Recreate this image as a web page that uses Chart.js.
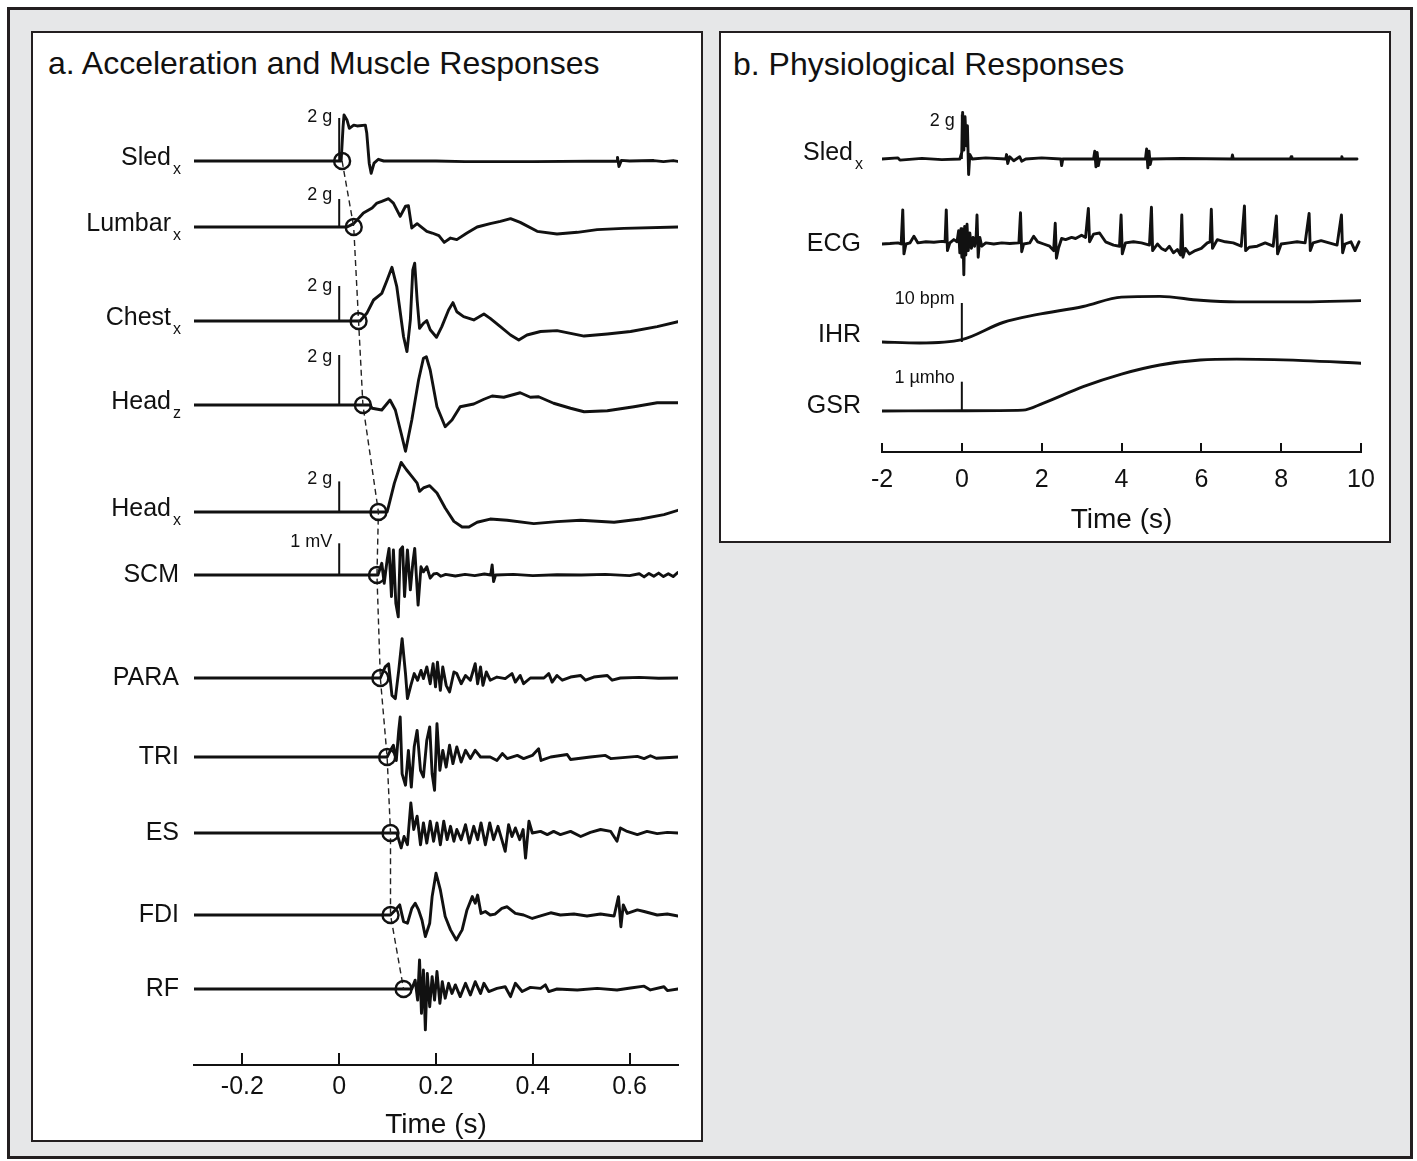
<!DOCTYPE html>
<html><head><meta charset="utf-8">
<script src="https://cdn.jsdelivr.net/npm/chart.js@4.4.1/dist/chart.umd.min.js"></script>
<style>
html,body{margin:0;padding:0;background:#fff;}
body{width:1417px;height:1161px;position:relative;overflow:hidden;font-family:'Liberation Sans',Arial,Helvetica,sans-serif;color:#111;}
#frame{position:absolute;left:7px;top:7px;width:1406px;height:1152px;box-sizing:border-box;border:3px solid #231f20;background:#e6e7e8;}
.panel{position:absolute;box-sizing:border-box;border:2px solid #231f20;background:#fff;}
#pa{left:31px;top:31px;width:672px;height:1111px;}
#pb{left:719px;top:31px;width:672px;height:512px;}
.title{position:absolute;font-size:32px;line-height:32px;white-space:nowrap;color:#111;}
canvas{position:absolute;}
</style></head>
<body>
<div id="frame"></div>
<div class="panel" id="pa"></div>
<div class="panel" id="pb"></div>
<div class="title" style="left:48px;top:47px;">a. Acceleration and Muscle Responses</div>
<div class="title" style="left:733px;top:48px;">b. Physiological Responses</div>
<canvas id="ca" width="668" height="1107" style="left:33px;top:33px;"></canvas>
<canvas id="cb" width="668" height="508" style="left:721px;top:33px;"></canvas>
<script>
const FONT = "'Liberation Sans', Arial, Helvetica, sans-serif";

// ---------- Panel a data (time in s; accel in g, EMG in mV) ----------
const aNames = ['Sled','Lumbar','Chest','Head','Head','SCM','PARA','TRI','ES','FDI','RF'];
const aSubs  = ['x','x','x','z','x','','','','','',''];
const aTicks = [-0.2, 0, 0.2, 0.4, 0.6];
const aOnsets = [0.006, 0.030, 0.040, 0.049, 0.081, 0.078, 0.085, 0.099, 0.106, 0.106, 0.133];
const aScaleBars = [2, 2, 2, 2, 2, 1, null, null, null, null, null];
const aScaleLabels = ['2 g','2 g','2 g','2 g','2 g','1 mV','','','','',''];

const sledA = [[-0.3,0],[0.004,0],[0.008,1.6],[0.010,2.14],[0.016,1.91],[0.021,1.52],[0.030,1.67],[0.037,1.63],[0.054,1.67],[0.057,1.29],[0.062,-0.1],[0.066,-0.57],[0.072,-0.1],[0.081,0.08],[0.092,0],[0.2,0],[0.26,-0.03],[0.4,-0.03],[0.574,0],[0.575,0.17],[0.578,-0.26],[0.583,0.03],[0.6,0],[0.65,0.02],[0.67,-0.03],[0.69,0.02],[0.7,-0.02]];
const lumbarA = [[-0.3,0],[0.016,0],[0.030,0.24],[0.050,1.0],[0.068,1.36],[0.078,1.71],[0.088,1.83],[0.102,2.02],[0.112,1.71],[0.126,0.76],[0.137,1.48],[0.143,1.52],[0.150,-0.07],[0.161,0.24],[0.168,0.05],[0.181,-0.31],[0.192,-0.43],[0.206,-0.62],[0.217,-1.1],[0.230,-0.79],[0.243,-0.9],[0.264,-0.43],[0.285,0],[0.312,0.24],[0.333,0.4],[0.354,0.6],[0.374,0.33],[0.409,-0.31],[0.450,-0.5],[0.492,-0.38],[0.533,-0.19],[0.588,-0.1],[0.700,0]];
const chestA = [[-0.3,0],[0.043,0],[0.057,0.44],[0.071,1.2],[0.088,1.58],[0.099,2.34],[0.109,3.07],[0.119,1.96],[0.133,-0.9],[0.140,-1.75],[0.147,0.06],[0.152,2.9],[0.156,3.3],[0.161,1.2],[0.166,-0.42],[0.174,-0.13],[0.181,0.02],[0.188,-0.5],[0.201,-0.93],[0.212,-0.32],[0.226,0.63],[0.235,1.05],[0.243,0.53],[0.257,0.25],[0.278,0.06],[0.299,0.4],[0.312,0.15],[0.333,-0.32],[0.354,-0.8],[0.371,-1.09],[0.388,-0.8],[0.416,-0.6],[0.450,-0.55],[0.506,-0.86],[0.554,-0.74],[0.602,-0.6],[0.657,-0.32],[0.700,-0.04]];
const headZA = [[-0.3,0],[0.064,0],[0.068,-0.13],[0.088,-0.2],[0.105,0.2],[0.116,-0.2],[0.128,-1.13],[0.137,-1.85],[0.150,-0.6],[0.164,1.0],[0.174,1.87],[0.180,1.93],[0.188,1.4],[0.202,-0.07],[0.219,-0.87],[0.233,-0.6],[0.250,-0.07],[0.278,0.04],[0.299,0.23],[0.316,0.36],[0.340,0.31],[0.374,0.49],[0.395,0.31],[0.412,0.33],[0.443,0.07],[0.478,-0.13],[0.506,-0.27],[0.554,-0.23],[0.609,-0.07],[0.657,0.09],[0.700,0.09]];
const headXA = [[-0.3,0],[0.099,0],[0.102,0.37],[0.114,1.89],[0.128,3.24],[0.139,2.76],[0.150,2.33],[0.161,1.89],[0.166,1.35],[0.174,1.57],[0.187,1.72],[0.202,1.24],[0.219,0.26],[0.237,-0.61],[0.254,-0.98],[0.268,-0.98],[0.285,-0.67],[0.312,-0.46],[0.347,-0.54],[0.402,-0.76],[0.450,-0.63],[0.499,-0.54],[0.568,-0.67],[0.623,-0.46],[0.671,-0.17],[0.700,0.11]];
const scmA = [[-0.3,0],[0.08,0],[0.088,0.37],[0.093,-0.26],[0.099,0.47],[0.103,0.84],[0.108,-0.68],[0.112,0.79],[0.117,-0.89],[0.122,-1.32],[0.126,0.79],[0.131,0.89],[0.135,-0.68],[0.141,0.79],[0.147,-0.47],[0.152,0.37],[0.156,0.84],[0.163,-0.95],[0.169,0.26],[0.174,0.1],[0.181,0.26],[0.188,-0.1],[0.195,0.03],[0.202,0.05],[0.21,-0.04],[0.22,0.02],[0.24,-0.03],[0.26,0.02],[0.28,-0.02],[0.30,0.03],[0.313,0],[0.316,0.32],[0.319,-0.21],[0.323,0],[0.36,0.02],[0.40,-0.02],[0.45,0.01],[0.50,0],[0.55,0.02],[0.60,-0.02],[0.62,0.04],[0.63,-0.06],[0.64,0.05],[0.65,-0.04],[0.66,0.06],[0.67,-0.05],[0.68,0.04],[0.69,-0.05],[0.70,0.08]];
const paraA = [[-0.3,0],[0.085,0],[0.095,0.35],[0.102,0.45],[0.109,-0.55],[0.116,-0.65],[0.123,0.24],[0.130,1.24],[0.137,0.14],[0.141,-0.65],[0.148,-0.23],[0.155,0.14],[0.162,-0.07],[0.169,0.24],[0.174,-0.02],[0.181,0.35],[0.188,-0.18],[0.194,0.45],[0.199,-0.28],[0.203,0.5],[0.209,-0.39],[0.214,0.35],[0.221,-0.23],[0.228,-0.44],[0.237,0.19],[0.243,0.14],[0.252,-0.18],[0.261,0.08],[0.271,-0.07],[0.281,0.45],[0.286,-0.18],[0.292,0.35],[0.297,-0.23],[0.304,0.19],[0.312,-0.07],[0.326,0.03],[0.343,-0.02],[0.357,0.14],[0.364,-0.13],[0.374,0.08],[0.381,-0.18],[0.395,0],[0.423,0],[0.433,0.14],[0.440,-0.13],[0.450,0.08],[0.461,-0.07],[0.478,0.03],[0.499,0.08],[0.509,-0.07],[0.526,0.03],[0.554,0.08],[0.564,-0.07],[0.581,0],[0.62,0.02],[0.66,-0.01],[0.70,0]];
const triA = [[-0.3,0],[0.099,0],[0.106,0.21],[0.112,0.37],[0.118,-0.11],[0.123,0.84],[0.126,1.26],[0.130,-0.53],[0.137,-0.89],[0.143,0.21],[0.149,-0.95],[0.155,0.32],[0.161,0.84],[0.168,-0.42],[0.174,-0.63],[0.181,0.53],[0.187,0.95],[0.192,-0.53],[0.197,-1.05],[0.202,1.05],[0.208,-0.42],[0.214,0.21],[0.221,-0.32],[0.228,0.37],[0.235,-0.21],[0.243,0.32],[0.252,-0.16],[0.261,0.21],[0.271,-0.05],[0.281,0.21],[0.292,0],[0.312,0],[0.326,-0.11],[0.337,0.11],[0.347,-0.05],[0.368,0.05],[0.381,-0.05],[0.399,0.05],[0.412,0.26],[0.417,-0.11],[0.437,0],[0.471,0.08],[0.478,-0.08],[0.519,0],[0.550,0.05],[0.561,-0.05],[0.616,0.02],[0.63,-0.05],[0.643,0.04],[0.655,-0.04],[0.70,0]];
const esA = [[-0.3,0],[0.119,0],[0.128,-0.47],[0.134,-0.11],[0.141,-0.37],[0.148,0.95],[0.154,0.11],[0.161,0.53],[0.168,-0.37],[0.174,0.32],[0.181,-0.32],[0.188,0.37],[0.195,-0.26],[0.202,0.32],[0.209,-0.37],[0.216,0.37],[0.223,-0.21],[0.230,0.21],[0.237,-0.26],[0.243,0.11],[0.252,-0.21],[0.261,0.26],[0.269,-0.32],[0.278,0.21],[0.286,-0.21],[0.293,0.32],[0.302,-0.37],[0.311,0.32],[0.319,-0.21],[0.328,0.21],[0.336,-0.21],[0.343,-0.58],[0.350,0.26],[0.357,-0.11],[0.364,0.16],[0.373,-0.21],[0.380,0.11],[0.385,-0.79],[0.392,0.37],[0.399,0],[0.416,0.05],[0.430,-0.05],[0.443,0.05],[0.457,-0.05],[0.478,0.05],[0.499,-0.11],[0.519,0.02],[0.540,0.11],[0.561,0.05],[0.574,-0.26],[0.581,0.16],[0.595,0.05],[0.616,-0.05],[0.636,0.05],[0.657,-0.02],[0.678,0.02],[0.70,0]];
const fdiA = [[-0.3,0],[0.106,0],[0.116,0.16],[0.125,0.32],[0.133,-0.21],[0.141,-0.26],[0.150,0.21],[0.157,0.37],[0.164,0.16],[0.171,-0.16],[0.178,-0.68],[0.187,-0.26],[0.192,0.58],[0.200,1.32],[0.209,0.79],[0.219,-0.05],[0.230,-0.47],[0.242,-0.79],[0.254,-0.47],[0.264,0.16],[0.275,0.58],[0.281,0.37],[0.286,0.63],[0.293,0.05],[0.302,0.11],[0.312,0],[0.322,0.03],[0.336,0.21],[0.347,0.26],[0.364,0.05],[0.381,0],[0.399,-0.11],[0.416,-0.03],[0.437,0.07],[0.457,0],[0.485,0.03],[0.512,-0.03],[0.540,0.03],[0.568,-0.03],[0.577,0.58],[0.582,-0.37],[0.587,0.32],[0.595,0.05],[0.616,0.16],[0.630,0.11],[0.657,0],[0.678,0.03],[0.70,-0.03]];
const rfA = [[-0.3,0],[0.150,0],[0.157,0.28],[0.162,-0.35],[0.166,0.92],[0.170,-0.77],[0.174,0.6],[0.178,-1.29],[0.182,0.49],[0.187,-0.56],[0.192,0.39],[0.197,-0.35],[0.202,0.55],[0.208,-0.45],[0.213,0.23],[0.219,-0.29],[0.226,0.18],[0.233,-0.14],[0.240,0.13],[0.250,-0.24],[0.261,0.18],[0.271,-0.19],[0.281,0.23],[0.292,-0.14],[0.299,0.18],[0.309,-0.08],[0.326,0.02],[0.343,0.07],[0.354,-0.24],[0.364,0.18],[0.378,-0.08],[0.395,0.05],[0.416,0.02],[0.426,0.13],[0.433,-0.08],[0.450,0],[0.492,-0.03],[0.533,0.02],[0.574,-0.03],[0.602,0.03],[0.630,0.09],[0.643,-0.03],[0.671,0.07],[0.678,-0.05],[0.70,0]];
const aSeries = [sledA, lumbarA, chestA, headZA, headXA, scmA, paraA, triA, esA, fdiA, rfA];

// ---------- Panel b data (time in s) ----------
const bNames = ['Sled','ECG','IHR','GSR'];
const bSubs  = ['x','','',''];
const bTicks = [-2, 0, 2, 4, 6, 8, 10];
const bScaleBars = [2, null, 10, 1];
const bScaleLabels = ['2 g','','10 bpm','1 \u00b5mho'];
const sledB = [[-2,0],[-1.6,0.05],[-1.55,-0.05],[-1.0,0.03],[-0.5,-0.03],[-0.05,0],[0,0.3],[0.02,2.1],[0.05,0.4],[0.08,1.9],[0.11,0.6],[0.14,1.5],[0.17,-0.7],[0.2,0.2],[0.26,0],[0.6,0.05],[1.1,0],[1.12,0.2],[1.15,-0.2],[1.2,0.1],[1.3,-0.08],[1.45,0.1],[1.5,-0.1],[1.6,0],[2.0,0.05],[2.48,0],[2.5,-0.3],[2.53,0],[3.3,0],[3.33,0.35],[3.36,-0.35],[3.39,0.3],[3.42,-0.3],[3.45,0],[4.6,0],[4.63,0.45],[4.66,-0.4],[4.69,0.35],[4.72,-0.25],[4.75,0],[5.5,0.02],[6.76,0],[6.78,0.18],[6.8,0],[8.23,0],[8.25,0.1],[8.27,0],[9.5,0],[9.52,0.1],[9.54,0],[9.9,0]];
const ecgB = [[-2,0],[-1.8,0.02],[-1.6,0.05],[-1.52,0],[-1.48,1.55],[-1.45,-0.45],[-1.4,0],[-1.3,0.05],[-1.2,0.35],[-1.1,0.05],[-0.9,0.1],[-0.7,0.08],[-0.5,0.12],[-0.42,0.1],[-0.39,1.55],[-0.36,-0.3],[-0.3,0.05],[-0.2,0.2],[-0.12,0.1],[-0.08,0.6],[-0.05,-0.4],[-0.02,0.7],[0.0,-0.6],[0.03,0.3],[0.05,-1.4],[0.07,0.8],[0.1,-0.5],[0.13,0.9],[0.16,-0.3],[0.2,0.5],[0.24,-0.2],[0.28,0.3],[0.32,-0.1],[0.36,0.4],[0.38,1.32],[0.41,-0.6],[0.45,0.3],[0.5,-0.1],[0.6,0.05],[0.8,0],[1.0,0.05],[1.2,0.02],[1.43,0.05],[1.47,1.42],[1.5,-0.35],[1.55,0],[1.7,0.05],[1.8,0.35],[1.9,0.1],[2.05,0],[2.2,-0.1],[2.3,-0.3],[2.34,0.94],[2.37,-0.65],[2.42,-0.2],[2.5,0.25],[2.6,0.2],[2.75,0.3],[2.85,0.25],[3.0,0.4],[3.1,0.3],[3.17,1.62],[3.2,0.1],[3.3,0.45],[3.45,0.5],[3.6,0.1],[3.8,-0.05],[3.95,-0.1],[3.99,1.32],[4.02,-0.45],[4.1,0.05],[4.3,0.1],[4.5,0.05],[4.7,-0.05],[4.75,1.67],[4.78,-0.3],[4.9,0],[5.0,-0.2],[5.1,-0.3],[5.2,-0.1],[5.3,-0.4],[5.4,-0.25],[5.48,-0.5],[5.51,1.32],[5.54,-0.6],[5.6,-0.2],[5.7,-0.45],[5.85,-0.3],[6.0,-0.2],[6.15,0.05],[6.22,0.1],[6.25,1.58],[6.28,-0.2],[6.4,0.2],[6.6,0.1],[6.8,0.05],[7.0,-0.1],[7.08,1.73],[7.11,-0.3],[7.2,-0.15],[7.4,-0.1],[7.6,0.05],[7.8,-0.1],[7.88,1.27],[7.91,-0.45],[8.0,0],[8.2,0.05],[8.4,0.1],[8.6,0.05],[8.7,1.39],[8.73,-0.3],[8.8,0.05],[9.0,0.15],[9.2,0.05],[9.4,-0.05],[9.51,1.32],[9.54,-0.4],[9.6,0],[9.75,0.1],[9.85,-0.3],[9.95,0.1]];
const ihrB = [[-2,0],[-1.06,-0.26],[0,0.6],[1.03,5.0],[1.87,7.0],[3.04,9.1],[4.0,11.5],[4.96,11.7],[5.97,10.7],[6.89,10.3],[8.56,10.3],[10,10.6]];
const gsrB = [[-2,0],[0,0.01],[1.53,0.03],[2.03,0.26],[3.04,0.83],[4.0,1.26],[4.96,1.57],[5.97,1.74],[6.89,1.77],[8.56,1.72],[10,1.63]];
const bSeries = [sledB, ecgB, ihrB, gsrB];

// ---------- Layout (positions / sizes / styles, not data) ----------
const layoutA = {
  yMax: 975,
  baselines: [904, 838, 744, 660, 553, 490, 387, 308, 232, 150, 76],
  gains: [21.5, 14, 17.5, 25, 15.3, 31.7, 31.7, 31.7, 31.7, 31.7, 31.7],
  labelDy: [-3, -3, -3, -3, -3, 0, 0, 0, 0, 0, 0],
  barLabelDy: [-1, -4, 0, 2, -2, -1, 0, 0, 0, 0, 0],
  smooth: [false,false,false,false,false,false,false,false,false,false,false],
  padding: {left: 161, right: 23, top: 57, bottom: 0},
  axisHeight: 75, tickPad: -1, tickLen: 12, labelGap: 13, titlePadBottom: -2
};
const layoutB = {
  yMax: 352,
  baselines: [293, 208, 110, 41],
  gains: [22.2, 22, 3.9, 29.3],
  labelDy: [-6, 0, -7, -5],
  barLabelDy: [6, 0, -4, -4],
  smooth: [false, false, true, true],
  padding: {left: 161, right: 28, top: 67, bottom: 4},
  axisHeight: 85, tickPad: 5, tickLen: 9, labelGap: 19, titlePadBottom: 0
};
const INK = '#111';
const TRACE_W = 2.9;

function buildDatasets(series, L, scaleBars, onsets) {
  const ds = [];
  if (onsets) {
    const pts = onsets.map((t, i) => ({x: t, y: L.baselines[i]}));
    ds.push({data: pts, showLine: false, pointRadius: 8, pointBorderWidth: 2.4,
             pointBackgroundColor: 'rgba(0,0,0,0)', pointBorderColor: INK});
    ds.push({data: pts, showLine: true, pointRadius: 0, borderWidth: 1.4,
             borderColor: '#222', borderDash: [6, 4]});
  }
  series.forEach((s, i) => {
    ds.push({data: s.map(p => ({x: p[0], y: L.baselines[i] + p[1] * L.gains[i]})),
             showLine: true, pointRadius: 0, borderWidth: TRACE_W, borderColor: INK,
             borderJoinStyle: 'round', borderCapStyle: 'round',
             cubicInterpolationMode: L.smooth[i] ? 'monotone' : 'default', tension: 0});
    if (scaleBars[i] != null) {
      ds.push({data: [{x: 0, y: L.baselines[i]}, {x: 0, y: L.baselines[i] + scaleBars[i] * L.gains[i]}],
               showLine: true, pointRadius: 0, borderWidth: 2, borderColor: INK});
    }
  });
  return ds;
}

function labelPlugin(names, subs, scaleBars, scaleLabels, L) {
  return {
    id: 'traceLabels',
    afterDraw(chart) {
      const {ctx, chartArea, scales} = chart;
      const x = scales.x, y = scales.y;
      ctx.save();
      ctx.strokeStyle = INK; ctx.fillStyle = INK; ctx.lineWidth = 2;
      x.ticks.forEach(t => {
        const px = Math.round(x.getPixelForValue(t.value));
        ctx.beginPath(); ctx.moveTo(px, chartArea.bottom); ctx.lineTo(px, chartArea.bottom - L.tickLen); ctx.stroke();
      });
      ctx.textBaseline = 'middle';
      names.forEach((n, i) => {
        const py = y.getPixelForValue(L.baselines[i]) + L.labelDy[i];
        const right = chartArea.left - L.labelGap;
        let subW = 0;
        ctx.textAlign = 'right';
        if (subs[i]) {
          ctx.font = '16px ' + FONT;
          subW = ctx.measureText(subs[i]).width;
          ctx.fillText(subs[i], right, py + 12);
        }
        ctx.font = '25px ' + FONT;
        ctx.fillText(n, right - subW - 2, py);
      });
      ctx.font = '18px ' + FONT;
      scaleBars.forEach((b, i) => {
        if (b == null) return;
        const px = x.getPixelForValue(0) - 7;
        const py = y.getPixelForValue(L.baselines[i] + b * L.gains[i]) + L.barLabelDy[i];
        ctx.textAlign = 'right';
        ctx.fillText(scaleLabels[i], px, py);
      });
      ctx.restore();
    }
  };
}

function makeChart(id, series, L, xMin, xMax, ticks, names, subs, bars, barLabels, onsets) {
  return new Chart(document.getElementById(id), {
    type: 'scatter',
    data: {datasets: buildDatasets(series, L, bars, onsets)},
    options: {
      responsive: false, animation: false, events: [],
      layout: {padding: L.padding},
      plugins: {legend: {display: false}, tooltip: {enabled: false}},
      scales: {
        x: {type: 'linear', position: 'bottom', min: xMin, max: xMax,
            afterBuildTicks: s => { s.ticks = ticks.map(v => ({value: v})); },
            afterFit: s => { s.height = L.axisHeight; },
            grid: {display: false},
            border: {display: true, color: INK, width: 2},
            ticks: {color: INK, font: {family: FONT, size: 25}, padding: L.tickPad,
                    maxRotation: 0, autoSkip: false, callback: v => String(v)},
            title: {display: true, text: 'Time (s)', color: INK, font: {family: FONT, size: 28},
                    padding: {top: 0, bottom: L.titlePadBottom}}},
        y: {type: 'linear', min: 0, max: L.yMax, display: false}
      }
    },
    plugins: [labelPlugin(names, subs, bars, barLabels, L)]
  });
}

makeChart('ca', aSeries, layoutA, -0.3, 0.7, aTicks, aNames, aSubs, aScaleBars, aScaleLabels, aOnsets);
makeChart('cb', bSeries, layoutB, -2, 10, bTicks, bNames, bSubs, bScaleBars, bScaleLabels, null);
</script>
</body></html>
